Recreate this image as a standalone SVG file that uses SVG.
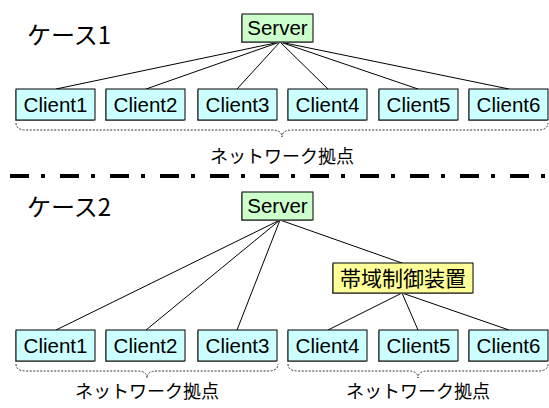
<svg xmlns="http://www.w3.org/2000/svg" width="549" height="408" viewBox="0 0 549 408">
<style>
.box{stroke:#000;stroke-width:1}
.cl{fill:#CCFFFF}
.sv{fill:#CCFFCC}
.bw{fill:#FFFF99}
.sh{fill:#999}
.t{font-family:"Liberation Sans",Arial,sans-serif;font-size:20.5px;fill:#000;text-anchor:middle}
.j{font-family:"Noto Sans CJK JP",sans-serif;fill:#000}
.lbl{font-size:18px;text-anchor:middle}
.conn line{stroke:#000;stroke-width:1}
.brace{fill:none;stroke:#333;stroke-width:1;stroke-dasharray:2 1.5}
</style>
<rect width="549" height="408" fill="#fff"/>
<text class="j" x="27" y="44" font-size="24">ケース1</text>
<text class="j" x="27" y="216" font-size="24">ケース2</text>
<line x1="10" y1="176" x2="549" y2="176" stroke="#000" stroke-width="4" stroke-dasharray="19 12 4 15"/>
<g class="conn">
<line x1="280" y1="42" x2="56" y2="89"/>
<line x1="280" y1="42" x2="146" y2="89"/>
<line x1="280" y1="42" x2="237" y2="89"/>
<line x1="280" y1="42" x2="328" y2="89"/>
<line x1="280" y1="42" x2="418" y2="89"/>
<line x1="280" y1="42" x2="509" y2="89"/>
<line x1="280" y1="220" x2="56" y2="330"/>
<line x1="280" y1="220" x2="146" y2="330"/>
<line x1="280" y1="220" x2="237" y2="330"/>
<line x1="280" y1="220" x2="402" y2="263"/>
<line x1="402" y1="293" x2="328" y2="330"/>
<line x1="402" y1="293" x2="418" y2="330"/>
<line x1="402" y1="293" x2="509" y2="330"/>
</g>
<g id="server1"><rect class="sh" x="241" y="15" width="71" height="28"/><rect class="box sv" x="242" y="14" width="71" height="28"/><text class="t" x="277.5" y="35">Server</text></g>
<g id="c1-1"><rect class="sh" x="15" y="90" width="79" height="31"/><rect class="box cl" x="16" y="89" width="79" height="31"/><text class="t" x="55.5" y="112">Client1</text></g>
<g id="c1-2"><rect class="sh" x="105" y="90" width="79" height="31"/><rect class="box cl" x="106" y="89" width="79" height="31"/><text class="t" x="145.5" y="112">Client2</text></g>
<g id="c1-3"><rect class="sh" x="197" y="90" width="79" height="31"/><rect class="box cl" x="198" y="89" width="79" height="31"/><text class="t" x="237.5" y="112">Client3</text></g>
<g id="c1-4"><rect class="sh" x="287" y="90" width="79" height="31"/><rect class="box cl" x="288" y="89" width="79" height="31"/><text class="t" x="327.5" y="112">Client4</text></g>
<g id="c1-5"><rect class="sh" x="378" y="90" width="79" height="31"/><rect class="box cl" x="379" y="89" width="79" height="31"/><text class="t" x="418.5" y="112">Client5</text></g>
<g id="c1-6"><rect class="sh" x="468" y="90" width="79" height="31"/><rect class="box cl" x="469" y="89" width="79" height="31"/><text class="t" x="508.5" y="112">Client6</text></g>
<path class="brace" d="M16,123 Q16,130 26,130 L272,130 Q282,130 282,137 Q282,130 292,130 L538,130 Q548,130 548,123"/>
<text class="j lbl" x="282" y="163">ネットワーク拠点</text>
<g id="server2"><rect class="sh" x="241" y="193" width="71" height="28"/><rect class="box sv" x="242" y="192" width="71" height="28"/><text class="t" x="277.5" y="213">Server</text></g>
<g id="bw"><rect class="sh" x="332" y="264" width="140" height="30"/><rect class="box bw" x="333" y="263" width="140" height="30"/><text class="j" x="403" y="286" font-size="21" text-anchor="middle">帯域制御装置</text></g>
<g id="c2-1"><rect class="sh" x="15" y="331" width="79" height="31"/><rect class="box cl" x="16" y="330" width="79" height="31"/><text class="t" x="55.5" y="353">Client1</text></g>
<g id="c2-2"><rect class="sh" x="105" y="331" width="79" height="31"/><rect class="box cl" x="106" y="330" width="79" height="31"/><text class="t" x="145.5" y="353">Client2</text></g>
<g id="c2-3"><rect class="sh" x="197" y="331" width="79" height="31"/><rect class="box cl" x="198" y="330" width="79" height="31"/><text class="t" x="237.5" y="353">Client3</text></g>
<g id="c2-4"><rect class="sh" x="287" y="331" width="79" height="31"/><rect class="box cl" x="288" y="330" width="79" height="31"/><text class="t" x="327.5" y="353">Client4</text></g>
<g id="c2-5"><rect class="sh" x="378" y="331" width="79" height="31"/><rect class="box cl" x="379" y="330" width="79" height="31"/><text class="t" x="418.5" y="353">Client5</text></g>
<g id="c2-6"><rect class="sh" x="468" y="331" width="79" height="31"/><rect class="box cl" x="469" y="330" width="79" height="31"/><text class="t" x="508.5" y="353">Client6</text></g>
<path class="brace" d="M16,364 Q16,371 26,371 L137,371 Q147,371 147,378 Q147,371 157,371 L268,371 Q278,371 278,364"/>
<path class="brace" d="M288,364 Q288,371 298,371 L408,371 Q418,371 418,378 Q418,371 428,371 L538,371 Q548,371 548,364"/>
<text class="j lbl" x="147" y="398">ネットワーク拠点</text>
<text class="j lbl" x="418" y="398">ネットワーク拠点</text>
</svg>
